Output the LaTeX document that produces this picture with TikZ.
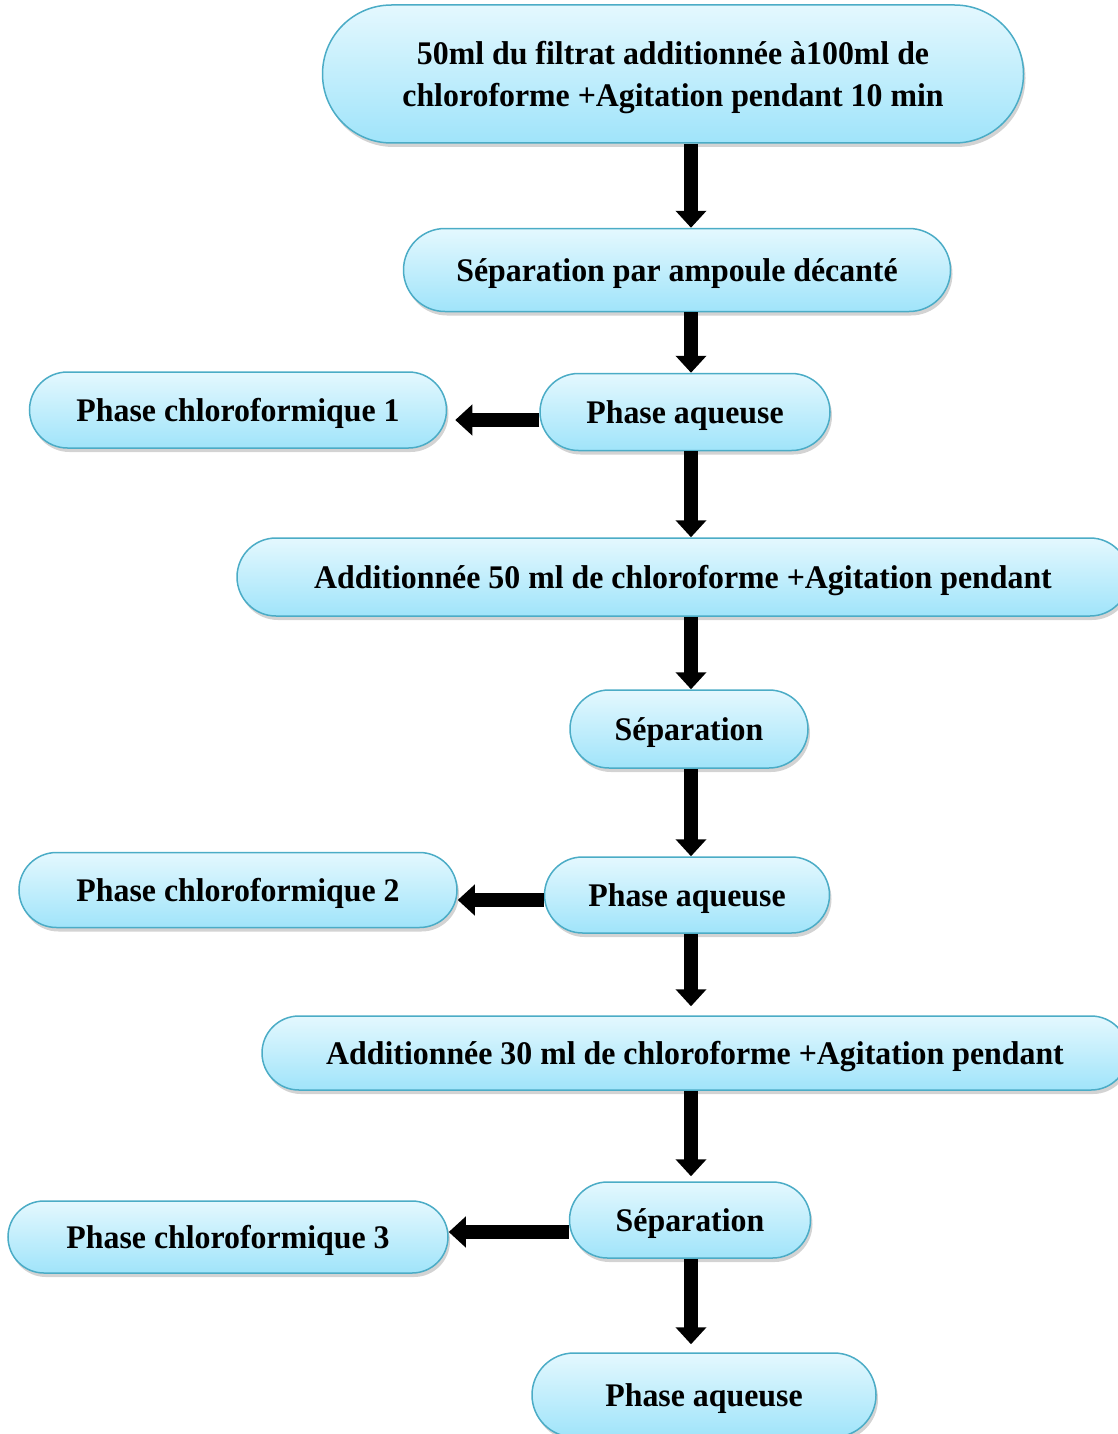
\documentclass[tikz,border=0pt]{standalone}
\usepackage{fontspec}
\setmainfont{Liberation Serif}[FakeStretch=0.965]
\usetikzlibrary{shapes.misc,shadows,arrows.meta}

\definecolor{boxtop}{HTML}{E4F8FE}
\definecolor{boxbottom}{HTML}{A0E4FA}
\definecolor{boxline}{HTML}{4BACC6}

\begin{document}
\begin{tikzpicture}[
    x=1pt, y=-1pt,
    etape/.style={
        rounded rectangle,
        draw=boxline,
        line width=1.5pt,
        top color=boxtop,
        bottom color=boxbottom,
        drop shadow={shadow xshift=2pt, shadow yshift=-4pt, opacity=0.35},
        font=\fontsize{33}{42}\selectfont\bfseries,
        text height=24pt,
        text depth=2pt,
        inner sep=0pt
    },
    fleche/.style={
        line width=14pt,
        -{Triangle[length=17pt,width=30pt]}
    }
]
\useasboundingbox (0,0) rectangle (1118,1434);

% Extraction
\node[etape, minimum width=701pt, minimum height=138pt, align=center,
      text height=, text depth=-7pt] (depart) at (673,74)
    {50ml du filtrat additionnée à100ml de\\chloroforme +Agitation pendant 10 min};
\node[etape, minimum width=547pt, minimum height=83pt] (decant) at (677,270) {Séparation par ampoule décanté};
\node[etape, minimum width=290pt, minimum height=77pt] (aq1) at (685,412) {Phase aqueuse};
\node[etape, minimum width=417pt, minimum height=76pt] (chl1) at (238,410) {Phase chloroformique 1};

% 2e extraction
\node[etape, minimum width=892pt, minimum height=78pt] (add50) at (683,577) {Additionnée 50 ml de chloroforme +Agitation pendant};
\node[etape, minimum width=238pt, minimum height=78pt] (sep2) at (689,729) {Séparation};
\node[etape, minimum width=285pt, minimum height=76pt] (aq2) at (687,895) {Phase aqueuse};
\node[etape, minimum width=438pt, minimum height=75pt] (chl2) at (238,890) {Phase chloroformique 2};

% 3e extraction
\node[etape, minimum width=866pt, minimum height=74pt] (add30) at (695,1053) {Additionnée 30 ml de chloroforme +Agitation pendant};
\node[etape, minimum width=241pt, minimum height=76pt] (sep3) at (690,1220) {Séparation};
\node[etape, minimum width=440pt, minimum height=72pt] (chl3) at (228,1237) {Phase chloroformique 3};
\node[etape, minimum width=344pt, minimum height=84pt] (aq3) at (704,1395) {Phase aqueuse};

% Fleches
\coordinate (axe) at (691,0);
\draw[fleche] (depart.south -| axe) -- (decant.north -| axe);
\draw[fleche] (decant.south -| axe) -- (aq1.north -| axe);
\draw[fleche] (aq1.south -| axe) -- (add50.north -| axe);
\draw[fleche] (add50.south -| axe) -- (sep2.north -| axe);
\draw[fleche] (sep2.south -| axe) -- (aq2.north -| axe);
\draw[fleche, shorten >=9pt] (aq2.south -| axe) -- (add30.north -| axe);
\draw[fleche, shorten >=5pt] (add30.south -| axe) -- (sep3.north -| axe);
\draw[fleche, shorten >=8pt] (sep3.south -| axe) -- (aq3.north -| axe);

\draw[fleche, shorten >=8pt] ([yshift=-8pt]aq1.west) -- ([yshift=-8pt]aq1.west -| chl1.east);
\draw[fleche] ([yshift=-5pt]aq2.west) -- ([yshift=-5pt]aq2.west -| chl2.east);
\draw[fleche] ([yshift=-12pt]sep3.west) -- ([yshift=-12pt]sep3.west -| chl3.east);

\end{tikzpicture}
\end{document}
